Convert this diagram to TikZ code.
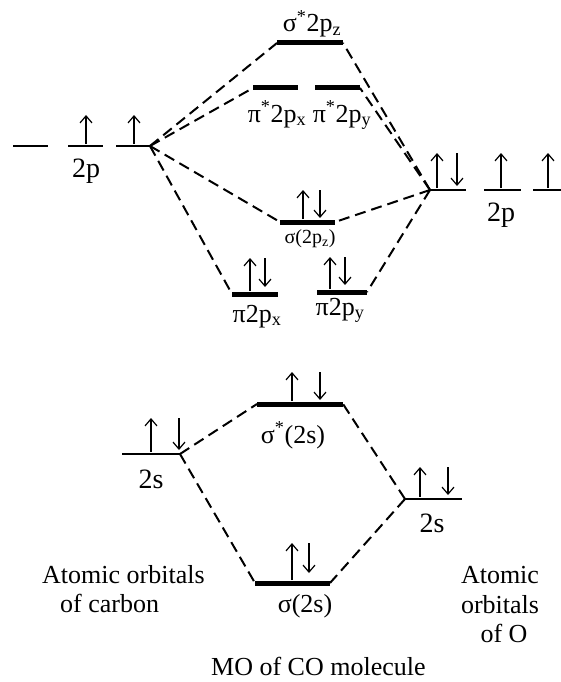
\documentclass[tikz,border=0pt]{standalone}
\usepackage{fontspec}
\setmainfont{Liberation Serif}
\usetikzlibrary{arrows.meta}
\begin{document}
\begin{tikzpicture}[x=1pt,y=-1pt,
  ao/.style={line width=1.9pt},
  mo/.style={line width=5pt},
  conn/.style={dash pattern=on 11pt off 6pt, line width=2pt},
  spin/.style={line width=1.2pt,-{Straight Barb[length=7pt,width=12pt]}},
  lbl/.style={inner sep=0pt, font=\fontsize{26}{30}\selectfont, anchor=base},
  biglbl/.style={lbl, font=\fontsize{28}{32}\selectfont},
  smalllbl/.style={lbl, font=\fontsize{20}{23}\selectfont},
]
\useasboundingbox (0,0) rectangle (560,682);

% ---------- level end points ----------
% carbon 2p
\coordinate (c2paL) at (13,146);  \coordinate (c2paR) at (48,146);
\coordinate (c2pbL) at (68,146);  \coordinate (c2pbR) at (103,146);
\coordinate (c2pcL) at (116,146); \coordinate (c2pcR) at (150,146);
% oxygen 2p
\coordinate (o2paL) at (430,190); \coordinate (o2paR) at (466,190);
\coordinate (o2pbL) at (484,190); \coordinate (o2pbR) at (521,190);
\coordinate (o2pcL) at (533,190); \coordinate (o2pcR) at (562,190);
% MOs from 2p
\coordinate (ss2pzL) at (277,43);  \coordinate (ss2pzR) at (343,43);
\coordinate (ps2pxL) at (253,88);  \coordinate (ps2pxR) at (298,88);
\coordinate (ps2pyL) at (315,88);  \coordinate (ps2pyR) at (360,88);
\coordinate (s2pzL) at (280,222);  \coordinate (s2pzR) at (335,222);
\coordinate (p2pxL) at (232,294);  \coordinate (p2pxR) at (278,294);
\coordinate (p2pyL) at (317,292);  \coordinate (p2pyR) at (367,292);
% 2s
\coordinate (c2sL) at (122,454);  \coordinate (c2sR) at (180,454);
\coordinate (o2sL) at (405,499);  \coordinate (o2sR) at (462,499);
\coordinate (ss2sL) at (257,404); \coordinate (ss2sR) at (343,404);
\coordinate (s2sL) at (255,583);  \coordinate (s2sR) at (330,583);

% ---------- levels ----------
\draw[ao] (c2paL) -- (c2paR);
\draw[ao] (c2pbL) -- (c2pbR);
\draw[ao] (c2pcL) -- (c2pcR);
\draw[ao] (o2paL) -- (o2paR);
\draw[ao] (o2pbL) -- (o2pbR);
\draw[ao] (o2pcL) -- (o2pcR);
\draw[ao] (c2sL) -- (c2sR);
\draw[ao] (o2sL) -- (o2sR);
\draw[mo] (ss2pzL) -- (ss2pzR);
\draw[mo] (ps2pxL) -- (ps2pxR);
\draw[mo] (ps2pyL) -- (ps2pyR);
\draw[mo] (s2pzL) -- (s2pzR);
\draw[mo] (p2pxL) -- (p2pxR);
\draw[mo] (p2pyL) -- (p2pyR);
\draw[mo] (ss2sL) -- (ss2sR);
\draw[mo] (s2sL) -- (s2sR);

% ---------- correlation lines ----------
\draw[conn] (c2pcR) -- (ss2pzL);
\draw[conn] (c2pcR) -- (ps2pxL);
\draw[conn] (c2pcR) -- (s2pzL);
\draw[conn] (c2pcR) -- (p2pxL);
\draw[conn] (o2paL) -- (ss2pzR);
\draw[conn] (o2paL) -- (ps2pyR);
\draw[conn] (o2paL) -- (s2pzR);
\draw[conn] (o2paL) -- (p2pyR);
\draw[conn] (c2sR) -- (ss2sL);
\draw[conn] (c2sR) -- (s2sL);
\draw[conn] (o2sL) -- (ss2sR);
\draw[conn] (o2sL) -- (s2sR);

% ---------- electrons ----------
\draw[spin] (86,144) -- (86,115);
\draw[spin] (134,144) -- (134,115);
\draw[spin] (437,188) -- (437,153);
\draw[spin] (457,153) -- (457,186);
\draw[spin] (501,188) -- (501,153);
\draw[spin] (548,188) -- (548,153);
\draw[spin] (303,219) -- (303,190);
\draw[spin] (320,190) -- (320,218);
\draw[spin] (250,291) -- (250,258);
\draw[spin] (265,258) -- (265,287);
\draw[spin] (330,289) -- (330,257);
\draw[spin] (345,257) -- (345,285);
\draw[spin] (151,452) -- (151,418);
\draw[spin] (179,418) -- (179,450);
\draw[spin] (420,497) -- (420,467);
\draw[spin] (448,467) -- (448,495);
\draw[spin] (292,401) -- (292,372);
\draw[spin] (320,372) -- (320,400);
\draw[spin] (292,580) -- (292,543);
\draw[spin] (309,543) -- (309,573);

% ---------- labels ----------
\node[biglbl] (lc2p) at (86,177) {2p};
\node[biglbl] (lo2p) at (501,221) {2p};
\node[lbl] (lss2pz) at (312,32) {σ\textsuperscript{*}2p\textsubscript{z}};
\node[lbl] (lps2px) at (277,122) {π\textsuperscript{*}2p\textsubscript{x}};
\node[lbl] (lps2py) at (342,122) {π\textsuperscript{*}2p\textsubscript{y}};
\node[smalllbl] (ls2pz) at (310,243) {σ(2p\textsubscript{z})};
\node[lbl] (lp2px) at (257,322) {π2p\textsubscript{x}};
\node[lbl] (lp2py) at (340,315) {π2p\textsubscript{y}};
\node[lbl] (lss2s) at (293,443) {σ\textsuperscript{*}(2s)};
\node[biglbl] (lc2s) at (151,488) {2s};
\node[biglbl] (lo2s) at (432,532) {2s};
\node[lbl] (ls2s) at (305,612) {σ(2s)};
\node[lbl, anchor=base west] (aoc1) at (42,583) {Atomic orbitals};
\node[lbl, anchor=base west] (aoc2) at (60,612) {of carbon};
\node[lbl] (aoo1) at (500,583) {Atomic};
\node[lbl] (aoo2) at (500,613) {orbitals};
\node[lbl] (aoo3) at (504,642) {of O};
\node[lbl, anchor=base west] (title) at (211,675) {MO of CO molecule};
\end{tikzpicture}
\end{document}
